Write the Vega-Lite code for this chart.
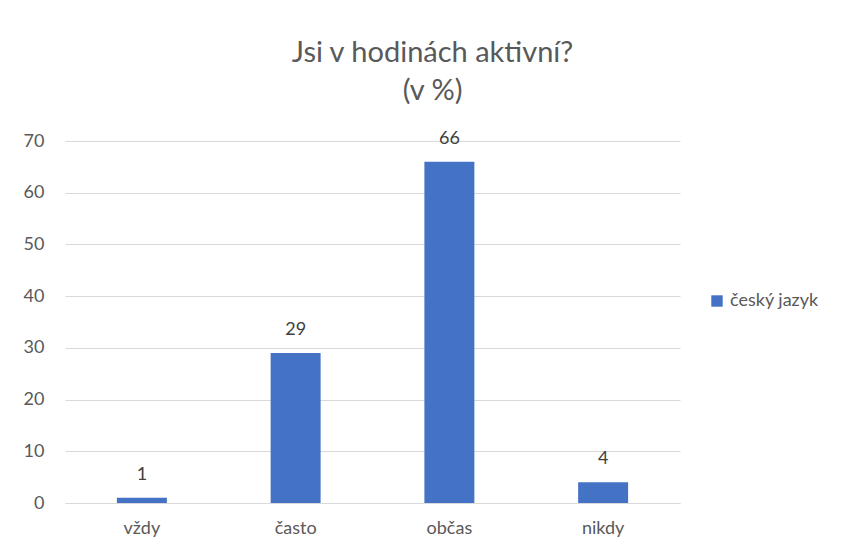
{
  "$schema": "https://vega.github.io/schema/vega-lite/v6.json",
  "width": 615,
  "height": 362,
  "autosize": {"type": "none"},
  "padding": {"left": 65, "top": 141, "right": 165, "bottom": 51},
  "background": "white",
  "config": {
    "font": "Lato",
    "view": {"stroke": null}
  },
  "title": {
    "text": ["Jsi v hodinách aktivní?", "(v %)"],
    "fontSize": 29,
    "fontWeight": "normal",
    "color": "#595959",
    "lineHeight": 38,
    "anchor": "middle",
    "dx": 60,
    "offset": 24
  },
  "data": {
    "values": [
      {"kategorie": "vždy", "hodnota": 1, "serie": "český jazyk"},
      {"kategorie": "často", "hodnota": 29, "serie": "český jazyk"},
      {"kategorie": "občas", "hodnota": 66, "serie": "český jazyk"},
      {"kategorie": "nikdy", "hodnota": 4, "serie": "český jazyk"}
    ]
  },
  "encoding": {
    "x": {
      "field": "kategorie",
      "type": "nominal",
      "sort": null,
      "scale": {"paddingInner": 0.675, "paddingOuter": 0.3375},
      "axis": {
        "title": null,
        "labelAngle": 0,
        "labelFontSize": 18,
        "labelColor": "#595959",
        "labelPadding": 16,
        "ticks": false,
        "domainColor": "#d9d9d9",
        "domainWidth": 1.2
      }
    },
    "y": {
      "field": "hodnota",
      "type": "quantitative",
      "scale": {"domain": [0, 70], "nice": false},
      "axis": {
        "title": null,
        "values": [0, 10, 20, 30, 40, 50, 60, 70],
        "labelFontSize": 18,
        "labelColor": "#595959",
        "labelPadding": 21,
        "ticks": false,
        "domain": false,
        "gridColor": "#d9d9d9",
        "gridWidth": 1.2
      }
    }
  },
  "layer": [
    {
      "mark": {"type": "bar", "color": "#4472C4"},
      "encoding": {
        "color": {
          "field": "serie",
          "type": "nominal",
          "scale": {"range": ["#4472C4"]},
          "legend": {
            "title": null,
            "orient": "none",
            "legendX": 643,
            "legendY": 151,
            "symbolType": "square",
            "symbolSize": 130,
            "symbolStrokeWidth": 0,
            "labelFontSize": 18,
            "labelColor": "#595959",
            "labelOffset": 4
          }
        }
      }
    },
    {
      "mark": {"type": "text", "baseline": "bottom", "dy": -14, "fontSize": 18, "color": "#404040"},
      "encoding": {
        "text": {"field": "hodnota", "type": "quantitative"}
      }
    }
  ]
}
